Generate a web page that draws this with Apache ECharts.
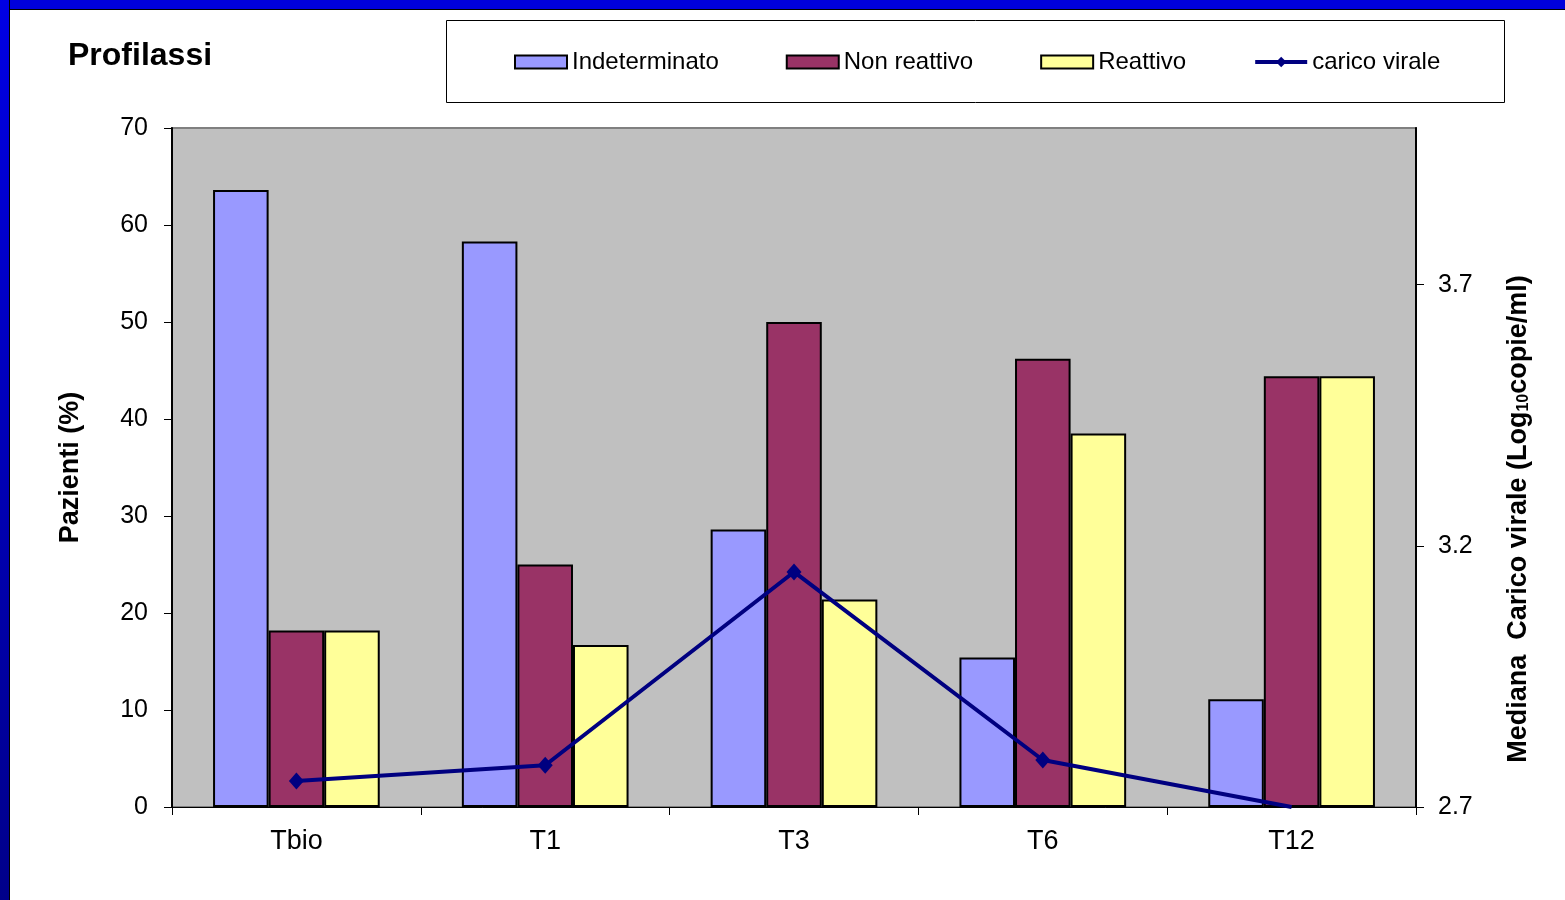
<!DOCTYPE html>
<html>
<head>
<meta charset="utf-8">
<script src="https://cdn.jsdelivr.net/npm/echarts@6/dist/echarts.min.js"></script>
<style>
  html, body { margin: 0; padding: 0; background: #fff; }
  #chart { position: absolute; left: 0; top: 0; width: 1565px; height: 900px; }
  #frameTop { position: absolute; left: 0; top: 0; width: 1565px; height: 9px; background: #0000dc; border-bottom: 1px solid #000; }
  #frameLeft { position: absolute; left: 0; top: 0; width: 9px; height: 900px; background: linear-gradient(#0000e4, #00008a); border-right: 1px solid #000; }
</style>
</head>
<body>
<div id="chart"></div>
<div id="frameTop"></div>
<div id="frameLeft"></div>
<script>
// Time points
const categories = ['Tbio', 'T1', 'T3', 'T6', 'T12'];

// Patients (%) per response class
const indeterminato = [63.6, 58.3, 28.6, 15.4, 11.1];
const nonReattivo   = [18.2, 25.0, 50.0, 46.2, 44.4];
const reattivo      = [18.2, 16.7, 21.4, 38.5, 44.4];

// Median viral load (Log10 copies/ml)
const caricoVirale  = [2.75, 2.78, 3.15, 2.79, 2.70];

// Right axis scale and its labelled ticks
const loadMin = 2.7;
const loadMax = 4.0;
const loadTicks = [2.7, 3.2, 3.7];

const FONT = '"Liberation Sans", Arial, sans-serif';

const chart = echarts.init(document.getElementById('chart'), null, { renderer: 'canvas' });

// Points sitting on the axis floor are drawn without a marker
const loadData = caricoVirale.map(v => (v <= loadMin ? { value: v, symbol: 'none' } : v));

const option = {
  backgroundColor: '#ffffff',
  animation: false,
  title: {
    text: 'Profilassi',
    left: 63,
    top: 35,
    textStyle: { fontFamily: FONT, fontSize: 32, fontWeight: 'bold', color: '#000' }
  },
  legend: {
    left: 514,
    top: 50,
    padding: 0,
    itemWidth: 52,
    itemHeight: 13,
    itemGap: 67,
    textStyle: { fontFamily: FONT, fontSize: 24, color: '#000' },
    data: [
      { name: 'Indeterminato', icon: 'rect' },
      { name: 'Non reattivo', icon: 'rect' },
      { name: 'Reattivo', icon: 'rect' },
      { name: 'carico virale', lineStyle: { width: 4, color: '#000080' } }
    ]
  },
  graphic: [
    {
      type: 'rect',
      shape: { x: 446.5, y: 20.5, width: 1058, height: 82 },
      style: { fill: 'none', stroke: '#000', lineWidth: 1 },
      silent: true
    },
    {
      type: 'text',
      x: 1519, y: 519,
      rotation: Math.PI / 2,
      style: {
        text: 'Mediana  Carico virale (Log{sub|10}copie/ml)',
        fontFamily: FONT, fontSize: 27, fontWeight: 'bold', fill: '#000',
        align: 'center', verticalAlign: 'middle',
        rich: {
          sub: { fontFamily: FONT, fontSize: 16, fontWeight: 'bold', fill: '#000', padding: [10, 0, 0, 0] }
        }
      },
      silent: true
    }
  ],
  grid: {
    left: 172, right: 149, top: 128, bottom: 93,
    show: true,
    backgroundColor: '#c0c0c0',
    borderColor: '#808080',
    borderWidth: 2
  },
  xAxis: {
    type: 'category',
    data: categories,
    boundaryGap: true,
    axisLine: { lineStyle: { color: '#000', width: 1 } },
    axisTick: { show: true, length: 8, lineStyle: { color: '#000' } },
    axisLabel: { fontFamily: FONT, fontSize: 27, color: '#000', margin: 21 }
  },
  yAxis: [
    {
      type: 'value',
      min: 0, max: 70, interval: 10,
      name: 'Pazienti (%)',
      nameLocation: 'middle',
      nameRotate: 90,
      nameGap: 88,
      nameTextStyle: { fontFamily: FONT, fontSize: 27, fontWeight: 'bold', color: '#000' },
      axisLine: { show: true, lineStyle: { color: '#000', width: 2 } },
      axisTick: { show: true, length: 8, lineStyle: { color: '#000' } },
      axisLabel: { fontFamily: FONT, fontSize: 25, color: '#000', margin: 24 },
      splitLine: { show: false }
    },
    {
      type: 'value',
      position: 'right',
      min: loadMin, max: loadMax,
      axisLine: { show: true, lineStyle: { color: '#000', width: 2 } },
      axisTick: { show: true, length: 8, lineStyle: { color: '#000' }, customValues: loadTicks },
      axisLabel: {
        fontFamily: FONT, fontSize: 25, color: '#000', margin: 22,
        customValues: loadTicks,
        formatter: v => v.toFixed(1)
      },
      splitLine: { show: false }
    }
  ],
  series: [
    {
      name: 'Indeterminato', type: 'bar', data: indeterminato,
      barGap: '0%', barCategoryGap: '33%',
      itemStyle: { color: '#9999ff', borderColor: '#000', borderWidth: 2 }
    },
    {
      name: 'Non reattivo', type: 'bar', data: nonReattivo,
      itemStyle: { color: '#993366', borderColor: '#000', borderWidth: 2 }
    },
    {
      name: 'Reattivo', type: 'bar', data: reattivo,
      itemStyle: { color: '#ffff99', borderColor: '#000', borderWidth: 2 }
    },
    {
      name: 'carico virale', type: 'line', yAxisIndex: 1, data: loadData,
      symbol: 'diamond', symbolSize: [15, 17],
      lineStyle: { color: '#000080', width: 4 },
      itemStyle: { color: '#000080' },
      z: 5
    }
  ]
};

chart.setOption(option);
</script>
</body>
</html>
